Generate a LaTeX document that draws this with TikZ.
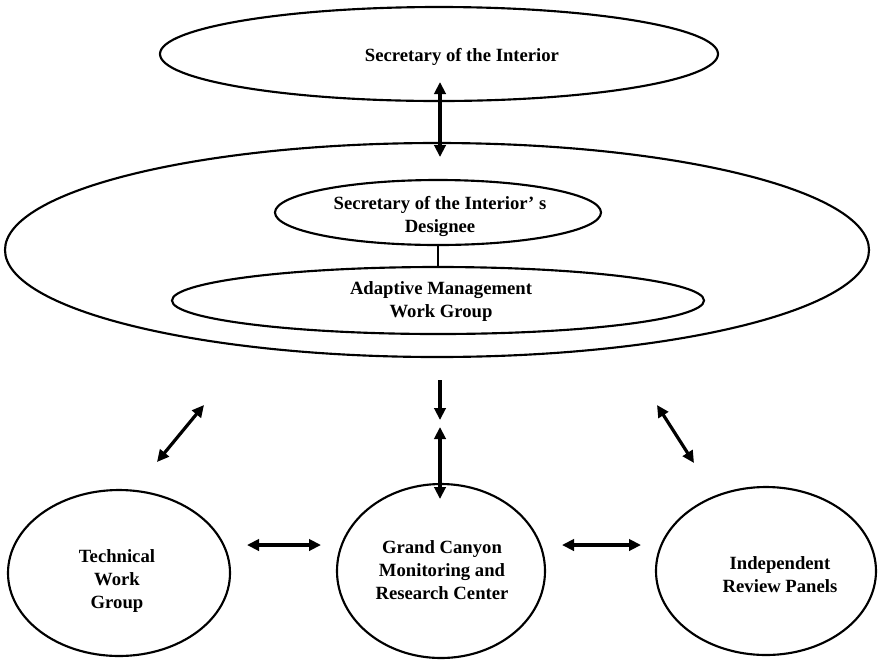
\documentclass[tikz,border=0pt]{standalone}
\usepackage{fontspec}
\setmainfont{Liberation Serif}
\usetikzlibrary{shapes.geometric,arrows.meta}
\tikzset{
  oval/.style={draw=black, line width=1.6pt, ellipse, inner sep=0pt},
  lbl/.style={inner sep=0pt, align=center,
    font=\fontsize{14}{17.25}\selectfont\bfseries},
  conn/.style={line width=2.4pt, {Triangle[length=9pt,width=8.5pt]}-{Triangle[length=9pt,width=8.5pt]}},
  oneway/.style={line width=2.4pt, -{Triangle[length=9pt,width=8.5pt]}}
}
\begin{document}
\begin{tikzpicture}[x=0.75pt,y=-0.75pt]
\useasboundingbox (0,0) rectangle (879,662);
% ovals
\node[oval, minimum width={558*0.75pt}, minimum height={94*0.75pt}] (sec) at (439,54) {};
\node[oval, minimum width={864*0.75pt}, minimum height={214*0.75pt}] (big) at (437,250) {};
\node[oval, minimum width={326*0.75pt}, minimum height={65*0.75pt}] (des) at (438,212.5) {};
\node[oval, minimum width={532*0.75pt}, minimum height={67*0.75pt}] (amwg) at (438,300.5) {};
\node[oval, minimum width={222*0.75pt}, minimum height={166*0.75pt}] (twg) at (119,573) {};
\node[oval, minimum width={208*0.75pt}, minimum height={174*0.75pt}] (gc) at (441,571) {};
\node[oval, minimum width={220*0.75pt}, minimum height={168*0.75pt}] (irp) at (766,571) {};
% labels
\node[lbl] (secl) at (462,57) {Secretary of the Interior};
\node[lbl] (desl) at (440,216) {Secretary of the Interior’ s\\Designee};
\node[lbl] (amwgl) at (441,302) {Adaptive Management\\Work Group};
\node[lbl] (twgl) at (117,581) {Technical\\Work\\Group};
\node[lbl] (gcl) at (442,570) {Grand Canyon\\Monitoring and\\Research Center};
\node[lbl] (irpl) at (780,575) {Independent\\Review Panels};
% arrow end points
\coordinate (a1) at (440,82);
\coordinate (a2) at (440,157);
\coordinate (b1) at (440,380);
\coordinate (b2) at (440,420);
\coordinate (c1) at (440,427);
\coordinate (c2) at (440,499);
\coordinate (d1) at (157,462);
\coordinate (d2) at (204,405);
\coordinate (e1) at (657,405);
\coordinate (e2) at (694,463);
\coordinate (f1) at (247,545);
\coordinate (f2) at (321,545);
\coordinate (g1) at (562,545);
\coordinate (g2) at (641,545);
% connectors
\draw[conn] (a1) -- (a2);
\draw[line width=1.6pt] (des.south) -- (amwg.north);
\draw[oneway] (b1) -- (b2);
\draw[conn] (c1) -- (c2);
\draw[conn] (d1) -- (d2);
\draw[conn] (e1) -- (e2);
\draw[conn] (f1) -- (f2);
\draw[conn] (g1) -- (g2);
\end{tikzpicture}
\end{document}
